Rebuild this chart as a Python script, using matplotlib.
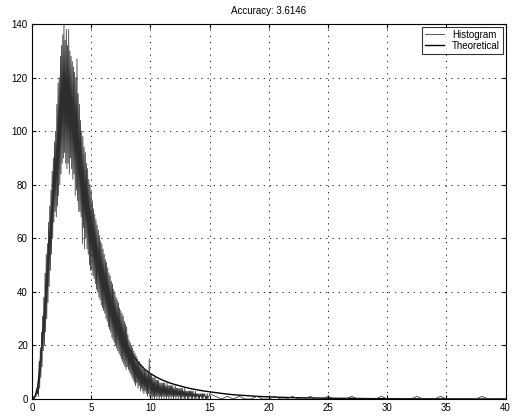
import numpy as np
import matplotlib.pyplot as plt

plt.rcParams['font.family'] = ['Liberation Sans', 'DejaVu Sans']

title = 'Accuracy: 3.6146'

# histogram counts, bin centres 0.00, 0.05, ... 15.00
hist_counts = [
    0, 0, 0, 1, 0, 1, 2, 1, 3, 2, 6,
    1, 14, 4, 19, 8, 25, 12, 31, 18, 38,
    20, 47, 25, 54, 30, 58, 36, 66, 42, 72, 48, 78, 54, 85, 60, 90, 66, 96, 70, 100,
    68, 110, 72, 118, 76, 120, 80, 128, 84, 132, 88, 136, 90, 140, 92, 134, 88, 138, 86, 132,
    88, 138, 84, 130, 90, 128, 86, 126, 82, 124, 84, 122, 76, 120, 78, 127, 74, 114, 70, 110,
    70, 104, 68, 100, 58, 98, 64, 94, 56, 92, 60, 88, 56, 86, 54, 82, 50, 80, 48, 78,
    48, 74, 46, 71, 45, 69, 43, 67, 41, 65, 40, 63, 38, 61, 37, 59, 35, 58, 34, 56,
    33, 54, 32, 52, 30, 51, 29, 49, 27, 47, 26, 46, 25, 44, 23, 43, 22, 41, 21, 40,
    20, 38, 19, 37, 18, 36, 17, 34, 16, 33, 15, 32, 14, 31, 13, 29, 12, 28, 11, 27,
    12, 24, 11, 22, 10, 21, 9, 20, 8, 19, 7, 18, 6, 17, 5, 16, 6, 15, 4, 14,
    5, 14, 3, 13, 4, 12, 3, 12, 2, 11, 3, 11, 2, 10, 1, 10, 2, 15, 1, 9,
    1, 9, 0, 8, 1, 8, 0, 8, 1, 7, 0, 7, 1, 7, 0, 6, 1, 6, 0, 6,
    1, 6, 0, 6, 1, 5, 0, 6, 1, 5, 0, 5, 1, 5, 0, 5, 1, 5, 0, 4,
    1, 5, 0, 4, 1, 4, 0, 4, 1, 4, 0, 4, 0, 4, 1, 3, 0, 4, 0, 3,
    1, 3, 0, 3, 0, 3, 1, 3, 0, 3, 0, 3, 1, 2, 0, 3, 0, 2, 1, 2,
    0, 2, 0, 2, 1, 2, 0, 2, 0, 2, 1, 2, 0, 1, 0, 2, 0, 1, 1, 2,
]
hist_step = 0.05

# sparse tail of the histogram, 15.5 ... 40.0
tail_x = [15.5, 16, 16.5, 17, 17.5, 18, 18.5, 19, 19.5, 20,
          20.5, 21, 21.5, 22, 22.5, 23, 23.5, 24, 24.5, 25,
          25.5, 26, 26.5, 27, 27.5, 28, 28.5, 29, 29.5, 30,
          30.5, 31, 31.5, 32, 32.5, 33, 33.5, 34, 34.5, 35,
          35.5, 36, 36.5, 37, 37.5, 38, 38.5, 39, 39.5, 40]
tail_counts = [1, 0, 1, 0, 1, 0, 0, 1, 0, 0,
               1, 0, 0, 1, 0, 0, 1, 0, 0, 1,
               0, 0, 0, 1, 0, 0, 0, 0, 1, 0,
               0, 0, 0, 0, 1, 0, 0, 0, 1, 0,
               0, 0, 0, 0, 0, 1, 0, 0, 0, 0]

# theoretical density (scaled)
theo_x = [0, 0.25, 0.5, 0.75, 1.0, 1.25, 1.5, 1.75, 2.0, 2.25,
          2.5, 2.75, 3.0, 3.25, 3.5, 3.75, 4.0, 4.25, 4.5, 4.75,
          5.0, 5.25, 5.5, 5.75, 6.0, 6.25, 6.5, 6.75, 7.0, 7.25,
          7.5, 7.75, 8.0, 8.5, 9.0, 9.5, 10, 10.5, 11, 11.5,
          12, 12.5, 13, 13.5, 14, 14.5, 15, 16, 17, 18,
          19, 20, 22, 25, 30, 35, 40]
theo_y = [0, 0.8, 5, 16, 29, 44, 59, 74, 87, 99,
          108, 112, 113, 111, 105, 99, 91, 83.5, 76, 68.5,
          62, 57, 52, 48, 44.5, 40.5, 36.5, 33, 30, 27,
          24.5, 22, 20, 16.5, 13.5, 11.2, 9.5, 8.2, 7.1, 6.2,
          5.5, 4.9, 4.3, 3.8, 3.4, 3.0, 2.7, 2.1, 1.6, 1.3,
          1.0, 0.8, 0.5, 0.3, 0.1, 0.03, 0]

hist_x = np.arange(len(hist_counts)) * hist_step
hx = np.concatenate([hist_x, tail_x])
hy = np.concatenate([hist_counts, tail_counts])

fig = plt.figure(figsize=(5.12, 4.19), dpi=100)
ax = fig.add_axes([0.0625, 0.0477, 0.925, 0.895])

# histogram drawn over the curve, so the curve only shows in the tail
ax.plot(hx, hy, color='#2e2e2e', linewidth=0.55, label='Histogram', zorder=3)
ax.plot(theo_x, theo_y, color='black', linewidth=1.0, label='Theoretical', zorder=2)

ax.set_xlim(0, 40)
ax.set_ylim(0, 140)
ax.set_xticks(np.arange(0, 41, 5))
ax.set_yticks(np.arange(0, 141, 20))
ax.tick_params(direction='in', top=True, right=True, labelsize=7, length=3, pad=3)
ax.grid(True, linestyle=(0, (1.5, 6)), color='black', linewidth=0.6)
for s in ax.spines.values():
    s.set_linewidth(0.8)
    s.set_zorder(4)

ax.set_title(title, fontsize=7, pad=7)
leg = ax.legend(loc='upper right', fontsize=7, frameon=True, fancybox=False,
                edgecolor='black', handlelength=2.0, borderpad=0.3,
                labelspacing=0.1, borderaxespad=0.3)
leg.get_frame().set_linewidth(0.8)
leg.set_zorder(5)

fig.savefig('out.png', dpi=100)
